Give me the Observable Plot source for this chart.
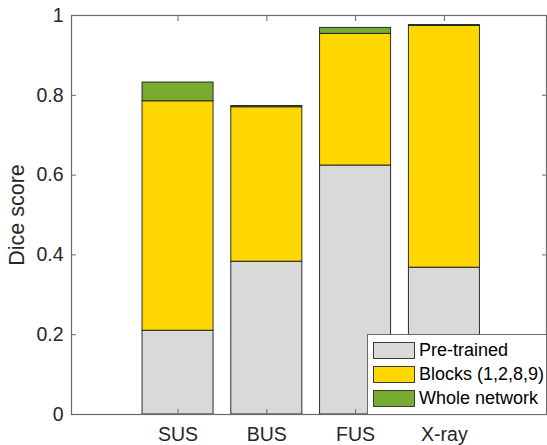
<!DOCTYPE html>
<html>
<head>
<meta charset="utf-8">
<script src="https://cdn.jsdelivr.net/npm/d3@7"></script>
<script src="https://cdn.jsdelivr.net/npm/@observablehq/plot@0.6"></script>
<style>
  html, body { margin: 0; padding: 0; background: #fff; }
  #wrap { position: relative; width: 547px; height: 445px; font-family: "Liberation Sans", Arial, sans-serif; overflow: hidden; }
  #wrap svg text { font-family: "Liberation Sans", Arial, sans-serif; }
  #legend { position: absolute; left: 367px; top: 334px; width: 180px; height: 81px; background: #fff; border: 1px solid #6a6a6a; box-sizing: border-box; }
  .item { position: absolute; left: 5px; height: 17px; display: flex; align-items: center; font-size: 18px; color: #000; white-space: nowrap; }
  .sw { width: 42px; height: 17px; border: 1px solid #3a3a3a; box-sizing: border-box; margin-right: 4px; flex: none; }
</style>
</head>
<body>
<div id="wrap"></div>
<script>
const categories = ["SUS", "BUS", "FUS", "X-ray"];
const positions = [1, 2, 3, 4];
const series = ["Pre-trained", "Blocks (1,2,8,9)", "Whole network"];
const colors = ["#d9d9d9", "#ffd700", "#77ac30"];
// Dice score reached by each training setting (cumulative, as drawn)
const pretrained = [0.210, 0.383, 0.624, 0.368];
const blocks = [0.785, 0.770, 0.954, 0.974];
const whole = [0.832, 0.773, 0.969, 0.976];
const yTicks = [0, 0.2, 0.4, 0.6, 0.8, 1];

const levels = [pretrained, blocks, whole];
const rects = [];
categories.forEach((c, i) => {
  let prev = 0;
  levels.forEach((lv, s) => {
    rects.push({cat: c, pos: positions[i], s: series[s], y1: prev, y2: lv[i]});
    prev = lv[i];
  });
});

const font = '"Liberation Sans", Arial, sans-serif';
const axisColor = "#6a6a6a";
const chart = Plot.plot({
  width: 547,
  height: 445,
  marginLeft: 71,
  marginRight: 1,
  marginTop: 15,
  marginBottom: 31,
  style: {fontFamily: font, fontSize: "19.5px", color: "#262626", background: "#fff", overflow: "visible"},
  x: {type: "linear", domain: [-0.2, 5.15]},
  y: {domain: [0, 1]},
  color: {domain: series, range: colors},
  marks: [
    Plot.rect(rects, {
      x1: d => d.pos - 0.4, x2: d => d.pos + 0.4,
      y1: "y1", y2: "y2",
      fill: "s", stroke: "#1a1a1a", strokeWidth: 0.9
    }),
    Plot.frame({stroke: axisColor, strokeWidth: 1.2}),
    Plot.axisX({anchor: "bottom", ticks: positions, tickSize: -5, tickFormat: () => "", stroke: axisColor, label: null}),
    Plot.axisX({anchor: "top", ticks: positions, tickSize: -5, tickFormat: () => "", stroke: axisColor, label: null}),
    Plot.axisX({anchor: "bottom", ticks: positions, tickSize: 0, tickPadding: 13, fontSize: 19.5,
      tickFormat: d => categories[positions.indexOf(d)], fill: "#262626", label: null}),
    Plot.axisY({anchor: "left", ticks: yTicks, tickSize: -5, tickFormat: () => "", stroke: axisColor, label: null}),
    Plot.axisY({anchor: "right", ticks: yTicks, tickSize: -5, tickFormat: () => "", stroke: axisColor, label: null}),
    Plot.axisY({anchor: "left", ticks: yTicks, tickSize: 0, tickPadding: 8, fontSize: 19.5,
      tickFormat: d => String(+d.toFixed(1)), fill: "#262626", label: null}),
    Plot.axisY({anchor: "left", ticks: [], fontSize: 21.5, fill: "#262626",
      label: "Dice score", labelAnchor: "center", labelArrow: "none", labelOffset: 63})
  ]
});

const wrap = document.getElementById("wrap");
wrap.appendChild(chart);
const leg = document.createElement("div");
leg.id = "legend";
series.forEach((s, i) => {
  const it = document.createElement("div");
  it.className = "item";
  it.style.top = (7 + i * 24) + "px";
  const sw = document.createElement("div");
  sw.className = "sw";
  sw.style.background = colors[i];
  const tx = document.createElement("span");
  tx.textContent = s;
  it.appendChild(sw);
  it.appendChild(tx);
  leg.appendChild(it);
});
wrap.appendChild(leg);
</script>
</body>
</html>
